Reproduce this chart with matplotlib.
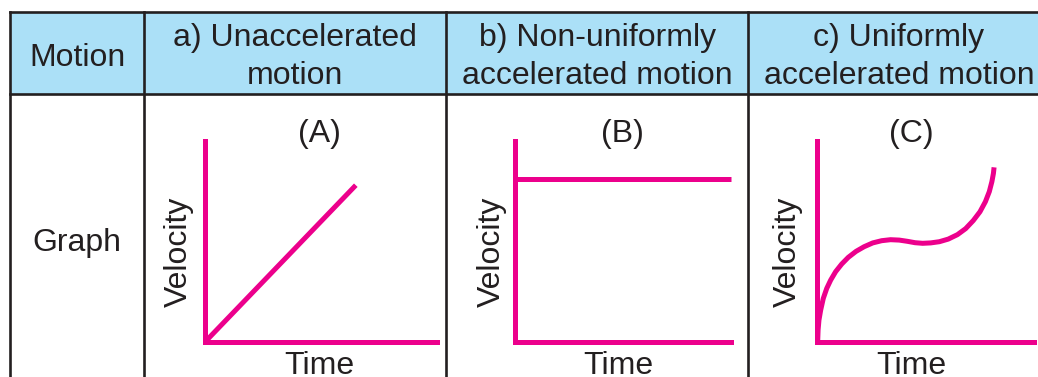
import matplotlib
matplotlib.use("Agg")
import matplotlib.pyplot as plt

plt.rcParams['font.family'] = ['Liberation Sans', 'DejaVu Sans']

# table text
row_title = "Motion"
col_headers = [["a) Unaccelerated", "motion"],
               ["b) Non-uniformly", "accelerated motion"],
               ["c) Uniformly", "accelerated motion"]]
row_label = "Graph"
panel_tags = ["(A)", "(B)", "(C)"]
x_label = "Time"
y_label = "Velocity"

# graph A: straight line through origin
a_time = [0, 6.5]
a_vel = [0, 7.8]
# graph B: constant velocity
b_time = [0, 10]
b_vel = [8.1, 8.1]
# graph C: curve
c_time = [0.03, 0.05, 0.09, 0.17, 0.29, 0.45, 0.63, 0.86, 1.14, 1.44,
          1.80, 2.17, 2.57, 2.98, 3.39, 3.79, 4.16, 4.52, 4.87, 5.24,
          5.64, 6.05, 6.47, 6.85, 7.20, 7.51, 7.76, 7.94, 8.06, 8.13, 8.16]
c_vel = [0.00, 0.60, 1.09, 1.59, 2.17, 2.67, 3.08, 3.50, 3.88, 4.21,
         4.51, 4.74, 4.93, 5.04, 5.09, 5.07, 5.01, 4.94, 4.91, 4.93,
         4.99, 5.12, 5.34, 5.64, 6.04, 6.48, 6.98, 7.48, 7.98, 8.39, 8.69]

pink = '#EC008C'
ink = '#231F20'
head_fill = '#ABE0F7'

W, H = 1038, 377
fig = plt.figure(figsize=(W / 100, H / 100), dpi=100)

# background axes in pixel units for the table
bg = fig.add_axes([0, 0, 1, 1])
bg.set_xlim(0, W)
bg.set_ylim(H, 0)
bg.axis('off')

left, top, head_bot = 10, 12, 94
col_x = [10, 144, 446, 748]
bg.add_patch(plt.Rectangle((left, top), W - left, head_bot - top,
                           facecolor=head_fill, edgecolor='none'))
bg.plot([left, W], [top, top], color=ink, lw=1.9)
bg.plot([left, W], [head_bot, head_bot], color=ink, lw=1.9)
for x in col_x:
    bg.plot([x, x], [top, H], color=ink, lw=1.9)

fs = 23
bg.text(77, 65.5, row_title, ha='center', va='baseline', fontsize=fs, color=ink)
bg.text(77, 251.5, row_label, ha='center', va='baseline', fontsize=fs, color=ink)
head_cx = [295, 597.5, 899]
for cx, lines in zip(head_cx, col_headers):
    bg.text(cx, 46, lines[0], ha='center', va='baseline', fontsize=fs, color=ink)
    bg.text(cx, 83.5, lines[1], ha='center', va='baseline', fontsize=fs, color=ink)

# graph panels: (origin x, origin y, width, height) in pixels
panels = [(205, 342, 232, 201), (515, 342, 216, 201), (817, 342, 217, 201)]
tag_x = [319, 622, 911]
time_x = [319, 618, 911]
vel_x = [179, 492, 788]
series = [(a_time, a_vel), (b_time, b_vel), (c_time, c_vel)]

for (ox, oy, pw, ph), tag, tx, mx, vx, (t, v) in zip(panels, panel_tags, tag_x,
                                                      time_x, vel_x, series):
    ax = fig.add_axes([ox / W, (H - oy) / H, pw / W, ph / H])
    ax.set_xlim(0, 10)
    ax.set_ylim(0, 10)
    ax.patch.set_alpha(0)
    for s in ['top', 'right']:
        ax.spines[s].set_visible(False)
    for s in ['left', 'bottom']:
        ax.spines[s].set_color(pink)
        ax.spines[s].set_linewidth(3.6)
        ax.spines[s].set_capstyle('projecting')
    ax.set_xticks([])
    ax.set_yticks([])
    ax.plot(t, v, color=pink, lw=3.6, clip_on=False,
            solid_joinstyle='round', solid_capstyle='butt')

    bg.text(tx, 142, tag, ha='center', va='baseline', fontsize=fs, color=ink)
    bg.text(vx, 252, y_label, ha='center', va='center', rotation=90,
            fontsize=fs, color=ink)
    bg.text(mx, 374, x_label, ha='center', va='baseline', fontsize=fs, color=ink)

fig.savefig('out.png', dpi=100)
